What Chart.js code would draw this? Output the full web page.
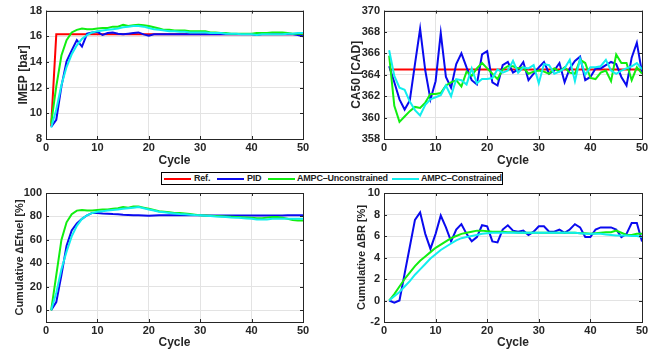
<!DOCTYPE html>
<html>
<head>
<meta charset="utf-8">
<script src="https://cdn.jsdelivr.net/npm/chart.js@4.4.1/dist/chart.umd.min.js"></script>
<style>
  body { margin: 0; background: #fff; width: 654px; height: 352px; position: relative; overflow: hidden; }
  canvas { position: absolute; }
  #legend {
    position: absolute; left: 161px; top: 172px; width: 340px; height: 11px;
    border: 1px solid #000; background: #fff; z-index: 5; white-space: nowrap;
    font: bold 9px "Liberation Sans", Arial, sans-serif; color: #222; letter-spacing: -0.2px;
  }
  #legend .swatch { position: absolute; top: 5px; width: 27px; height: 2px; }
  #legend .label { position: absolute; top: 0; line-height: 11px; }
</style>
</head>
<body>
<canvas id="imepChart" width="330" height="170" style="left:0;top:0"></canvas>
<canvas id="ca50Chart" width="324" height="170" style="left:330px;top:0"></canvas>
<canvas id="efuelChart" width="330" height="192" style="left:0;top:160px"></canvas>
<canvas id="brChart" width="324" height="192" style="left:330px;top:160px"></canvas>
<div id="legend"></div>
<script>
const cycles = [1,2,3,4,5,6,7,8,9,10,11,12,13,14,15,16,17,18,19,20,21,22,23,24,25,26,27,28,29,30,31,32,33,34,35,36,37,38,39,40,41,42,43,44,45,46,47,48,49,50]
const seriesNames = ["Ref.", "PID", "AMPC\u2013Unconstrained", "AMPC\u2013Constrained"]
const seriesColors = ["#ff0000", "#0a0aef", "#11ee11", "#11eeee"]

const xTicks = [0, 10, 20, 30, 40, 50]
const imepTicks = [8, 10, 12, 14, 16, 18]
const ca50Ticks = [358, 360, 362, 364, 366, 368, 370]
const efuelTicks = [0, 20, 40, 60, 80, 100]
const brTicks = [-2, 0, 2, 4, 6, 8, 10]

// IMEP [bar]
const imepRef = [9.0,16.15,16.15,16.15,16.15,16.15,16.15,16.15,16.15,16.15,16.15,16.15,16.15,16.15,16.15,16.15,16.15,16.15,16.15,16.15,16.15,16.15,16.15,16.15,16.15,16.15,16.15,16.15,16.15,16.15,16.15,16.15,16.15,16.15,16.15,16.15,16.15,16.15,16.15,16.15,16.15,16.15,16.15,16.15,16.15,16.15,16.15,16.15,16.15,16.15]
const imepPid = [8.95,9.5,12.1,14.05,14.9,15.7,15.2,16.2,16.3,16.35,16.1,16.25,16.3,16.2,16.15,16.2,16.25,16.3,16.15,16.05,16.15,16.15,16.15,16.15,16.15,16.15,16.15,16.15,16.15,16.15,16.15,16.15,16.15,16.15,16.15,16.15,16.15,16.15,16.15,16.15,16.1,16.15,16.15,16.15,16.15,16.15,16.15,16.15,16.1,16.0]
const imepUnc = [9.2,12.1,14.5,15.7,16.3,16.5,16.6,16.55,16.55,16.6,16.65,16.65,16.75,16.75,16.9,16.8,16.85,16.9,16.85,16.8,16.7,16.6,16.5,16.5,16.45,16.45,16.45,16.4,16.4,16.4,16.4,16.3,16.3,16.25,16.25,16.2,16.2,16.2,16.2,16.2,16.25,16.25,16.25,16.3,16.3,16.3,16.25,16.2,16.2,16.2]
const imepCon = [8.9,10.3,12.2,13.6,14.6,15.3,15.8,16.1,16.3,16.4,16.45,16.5,16.55,16.6,16.7,16.75,16.8,16.8,16.75,16.65,16.55,16.5,16.45,16.4,16.4,16.35,16.35,16.3,16.3,16.3,16.3,16.25,16.25,16.25,16.2,16.2,16.2,16.15,16.15,16.15,16.1,16.15,16.15,16.15,16.15,16.15,16.2,16.2,16.25,16.25]

// CA50 [CAD]
const ca50Ref = [364.5,364.5,364.5,364.5,364.5,364.5,364.5,364.5,364.5,364.5,364.5,364.5,364.5,364.5,364.5,364.5,364.5,364.5,364.5,364.5,364.5,364.5,364.5,364.5,364.5,364.5,364.5,364.5,364.5,364.5,364.5,364.5,364.5,364.5,364.5,364.5,364.5,364.5,364.5,364.5,364.5,364.5,364.5,364.5,364.5,364.5,364.5,364.5,364.5,364.5]
const ca50Pid = [364.8,363.3,361.7,360.75,361.6,365.0,368.3,364.4,361.7,363.4,367.9,363.8,362.8,365.0,366.0,364.7,363.5,363.1,365.9,366.2,363.3,363.0,364.9,365.2,364.2,364.5,365.2,363.5,364.1,364.7,365.2,364.1,364.4,365.1,363.3,364.6,365.3,365.7,363.5,363.8,364.6,364.6,364.9,365.2,365.0,363.8,363.0,365.6,367.0,364.2]
const ca50Unc = [365.8,361.1,359.6,360.1,360.6,361.0,360.9,361.4,362.2,362.2,362.3,363.0,363.3,363.5,362.9,364.3,363.9,364.6,365.1,364.6,364.1,363.6,364.5,364.8,364.8,364.6,364.7,364.1,364.3,364.4,364.3,364.1,364.6,364.3,364.7,364.2,364.1,365.4,365.1,363.7,363.6,364.2,364.4,363.4,365.9,365.1,365.1,363.5,364.7,364.1]
const ca50Con = [366.3,363.9,362.8,362.6,361.5,360.7,360.2,361.2,361.7,361.9,362.1,363.0,362.0,363.6,363.5,363.1,364.6,363.2,363.6,363.6,363.7,364.5,364.2,364.4,365.3,364.2,364.7,364.6,364.9,363.2,365.0,364.9,364.1,364.3,364.6,365.4,363.4,365.5,364.0,364.7,364.7,364.8,365.4,364.4,364.1,364.4,364.6,364.8,365.1,364.5]

// Cumulative dEfuel [%]
const efuelPid = [0,7,30,55,68,74,78,81,83,83,82.5,82.3,82,81.8,81.5,81.3,81,81,80.8,80.5,80.8,81,81,81,81,81,81,81,81,81,80.8,80.8,80.8,80.8,80.8,80.8,80.8,80.8,80.8,80.8,80.8,80.8,80.8,80.8,80.8,80.8,81,81,81,81]
const efuelUnc = [0,30,60,75,82,85,85.5,85,85,85.5,86,86,86.5,87,88,87.5,88.5,88.5,87.5,86.5,85.5,84.5,84,83.5,83,83,82.5,82,81.5,81,80.8,80.6,80.4,80.2,80,79.8,79.6,79.4,79.2,79,78.5,78.5,79,79.5,79.5,79,78,77,76.5,76.5]
const efuelCon = [0,15,35,50,63,72,78,81,83,84,84.5,85,85.5,86,86.5,87,87.5,88,87,86,85,84,83.5,83,82.5,82,81.8,81.5,81.2,81,80.6,80.3,80,79.8,79.5,79.2,79,78.6,78.3,78,77.5,77.5,77.5,78,78,78,78,78,78,78]

// Cumulative dBR [%]
const brPid = [0,-0.2,0,2.5,5,7.5,8.2,6.2,4.8,6.2,7.9,6.8,5.5,6.6,7.1,6.2,5.5,5.9,7.0,6.9,5.5,5.4,6.6,7.0,6.5,6.4,6.5,6.1,6.4,6.9,6.9,6.4,6.4,6.6,6.3,6.6,7.1,6.8,5.9,5.9,6.6,6.8,6.8,6.8,6.6,5.9,6.2,7.2,7.2,5.5]
const brUnc = [0,0.6,1.3,2.0,2.6,3.2,3.7,4.1,4.5,4.9,5.2,5.5,5.8,6.0,6.2,6.3,6.4,6.5,6.5,6.45,6.4,6.4,6.4,6.35,6.35,6.3,6.3,6.3,6.3,6.3,6.3,6.3,6.3,6.3,6.3,6.3,6.3,6.25,6.25,6.2,6.25,6.3,6.35,6.35,6.5,6.3,6.1,6.1,6.2,6.2]
const brCon = [0,0.4,0.8,1.3,1.8,2.4,2.9,3.4,3.9,4.3,4.7,5.0,5.3,5.6,5.8,5.9,6.0,6.1,6.2,6.25,6.3,6.3,6.3,6.3,6.3,6.3,6.3,6.3,6.3,6.3,6.3,6.3,6.3,6.3,6.3,6.3,6.3,6.25,6.2,6.2,6.2,6.2,6.15,6.1,6.05,6.05,6.05,6.0,6.0,5.9]

const font = "'Liberation Sans', Arial, sans-serif"

// box + inward ticks like the original figure
const boxPlugin = {
  id: "box",
  afterDatasetsDraw(chart) {
    const ctx = chart.ctx
    const a = chart.chartArea
    const x = chart.scales.x
    const y = chart.scales.y
    ctx.save()
    ctx.strokeStyle = "#262626"
    ctx.lineWidth = 1
    ctx.beginPath()
    x.ticks.forEach(t => {
      const px = Math.round(x.getPixelForValue(t.value)) + 0.5
      ctx.moveTo(px, a.bottom); ctx.lineTo(px, a.bottom - 3)
      ctx.moveTo(px, a.top); ctx.lineTo(px, a.top + 3)
    })
    y.ticks.forEach(t => {
      const py = Math.round(y.getPixelForValue(t.value)) + 0.5
      ctx.moveTo(a.left, py); ctx.lineTo(a.left + 3, py)
      ctx.moveTo(a.right, py); ctx.lineTo(a.right - 3, py)
    })
    ctx.stroke()
    ctx.strokeRect(Math.round(a.left) + 0.5, Math.round(a.top) + 0.5, Math.round(a.right - a.left), Math.round(a.bottom - a.top))
    ctx.restore()
  }
}

function makeChart(id, series, yMin, yMax, yTicks, yTitle, titleSize, padLeft, areaLeft, padRight, padTop, xHeight) {
  const datasets = series.map((values, i) => ({
    label: seriesNames[i],
    data: values.map((v, k) => ({ x: cycles[k], y: v })),
    borderColor: seriesColors[i],
    borderWidth: 2,
    pointRadius: 0,
    fill: false,
    tension: 0,
    order: 4 - i
  }))
  return new Chart(document.getElementById(id), {
    type: "line",
    data: { datasets: datasets },
    options: {
      responsive: false,
      animation: false,
      devicePixelRatio: 1,
      layout: { padding: { left: padLeft, right: padRight, top: padTop, bottom: 0 } },
      plugins: { legend: { display: false }, tooltip: { enabled: false } },
      scales: {
        x: {
          type: "linear", min: 0, max: 50,
          afterBuildTicks: s => { s.ticks = xTicks.map(v => ({ value: v })) },
          ticks: { color: "#262626", font: { family: font, size: 11, weight: "bold" }, padding: 2, maxRotation: 0 },
          grid: { color: "#e3e3e3", drawTicks: false },
          border: { display: false },
          title: { display: true, text: "Cycle", color: "#262626", font: { family: font, size: 12, weight: "bold" }, padding: { top: 0, bottom: 2 } },
          afterFit: s => { s.height = xHeight }
        },
        y: {
          min: yMin, max: yMax,
          afterBuildTicks: s => { s.ticks = yTicks.map(v => ({ value: v })) },
          ticks: { color: "#262626", font: { family: font, size: 11, weight: "bold" }, padding: 4 },
          grid: { color: "#e3e3e3", drawTicks: false },
          border: { display: false },
          title: { display: true, text: yTitle, color: "#262626", font: { family: font, size: titleSize, weight: "bold" }, padding: { top: 0, bottom: 0 } },
          afterFit: s => { s.width = areaLeft - padLeft }
        }
      }
    },
    plugins: [boxPlugin]
  })
}

makeChart("imepChart", [imepRef, imepPid, imepUnc, imepCon], 8, 18, imepTicks, "IMEP [bar]", 12, 16, 46, 27, 10, 31)
makeChart("ca50Chart", [ca50Ref, ca50Pid, ca50Unc, ca50Con], 358, 370, ca50Ticks, "CA50 [CAD]", 12, 19, 54, 12, 10, 31)
makeChart("efuelChart", [[], efuelPid, efuelUnc, efuelCon], -10, 100, efuelTicks, "Cumulative \u2206Efuel [%]", 11, 13, 46, 27, 33, 30)
makeChart("brChart", [[], brPid, brUnc, brCon], -2, 10, brTicks, "Cumulative \u2206BR [%]", 11, 25, 54, 12, 33, 30)

// shared legend (swatch / label left offsets inside the box)
const legendSwatchLeft = [2, 55, 106, 230]
const legendLabelLeft = [32, 85, 135, 259]
const legend = document.getElementById("legend")
legend.innerHTML = seriesNames.map((name, i) =>
  `<span class="swatch" style="left:${legendSwatchLeft[i]}px;background:${seriesColors[i]}"></span>` +
  `<span class="label" style="left:${legendLabelLeft[i]}px">${name}</span>`
).join("")
</script>
</body>
</html>
